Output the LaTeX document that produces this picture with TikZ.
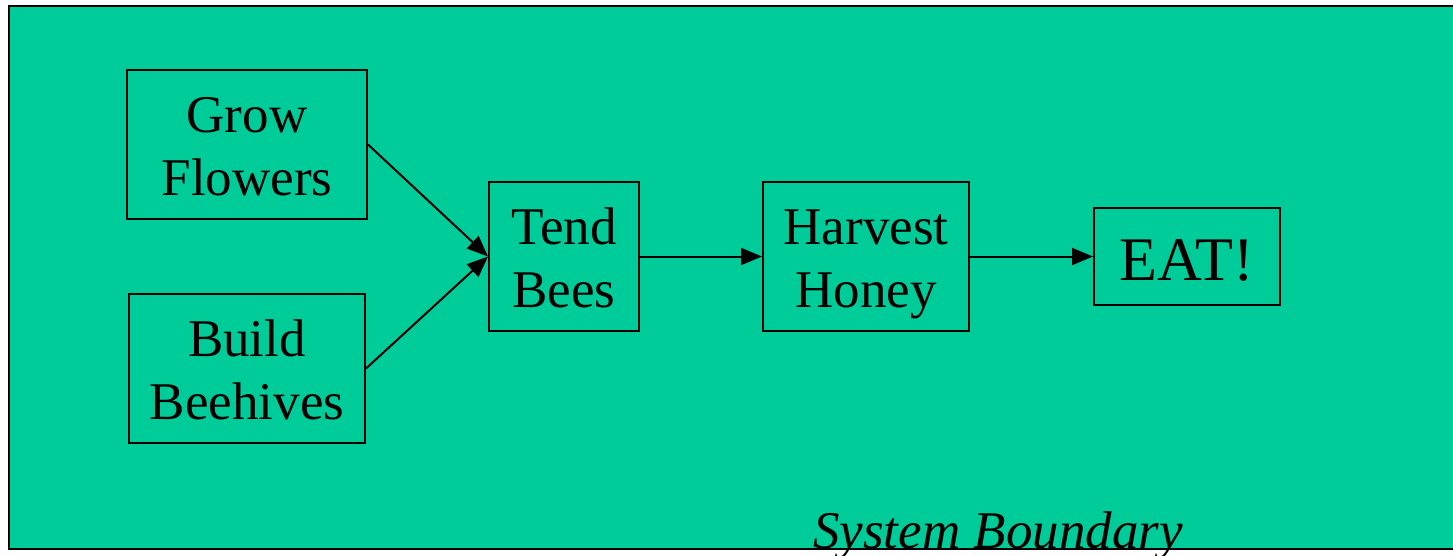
\documentclass[tikz,border=0pt]{standalone}
\usepackage{fontspec}
\setmainfont{Liberation Serif}
\usetikzlibrary{arrows.meta}
\definecolor{bg}{RGB}{0,204,153}
\tikzset{
  procbox/.style={draw=black, line width=2pt, inner sep=0pt, align=center,
    font=\fontsize{53}{63}\selectfont, text height=102pt, text depth=0pt},
  flow/.style={line width=2pt, -{Triangle[length=21pt,width=17pt]}}
}
\begin{document}
\begin{tikzpicture}[x=1pt,y=-1pt]
\useasboundingbox (0,0) rectangle (1453,555);
\clip (0,0) rectangle (1453,555);
\fill[white] (0,0) rectangle (1453,555);
\draw[fill=bg, line width=2.5pt] (9,6) rectangle (1470,549);
\node[procbox, minimum width=240pt, minimum height=149pt] (grow) at (247,144.5) {Grow\\Flowers};
\node[procbox, minimum width=236pt, minimum height=149pt] (build) at (247,368.5) {Build\\Beehives};
\node[procbox, minimum width=150pt, minimum height=149pt] (tend) at (564,256.5) {Tend\\Bees};
\node[procbox, minimum width=206pt, minimum height=149pt] (harv) at (866,256.5) {Harvest\\Honey};
\node[procbox, minimum width=186pt, minimum height=97pt, font=\fontsize{62}{70}\selectfont, text height=47pt] (eat) at (1187,256.5) {EAT!};
\draw[flow] (grow.east) -- (tend.west);
\draw[flow] (build.east) -- (tend.west);
\draw[flow] (tend.east) -- (harv.west);
\draw[flow] (harv.east) -- (eat.west);
\node[anchor=base west, inner sep=0pt, font=\fontsize{53}{63}\selectfont\itshape] (sysb) at (813,548) {System Boundary};
\end{tikzpicture}
\end{document}
